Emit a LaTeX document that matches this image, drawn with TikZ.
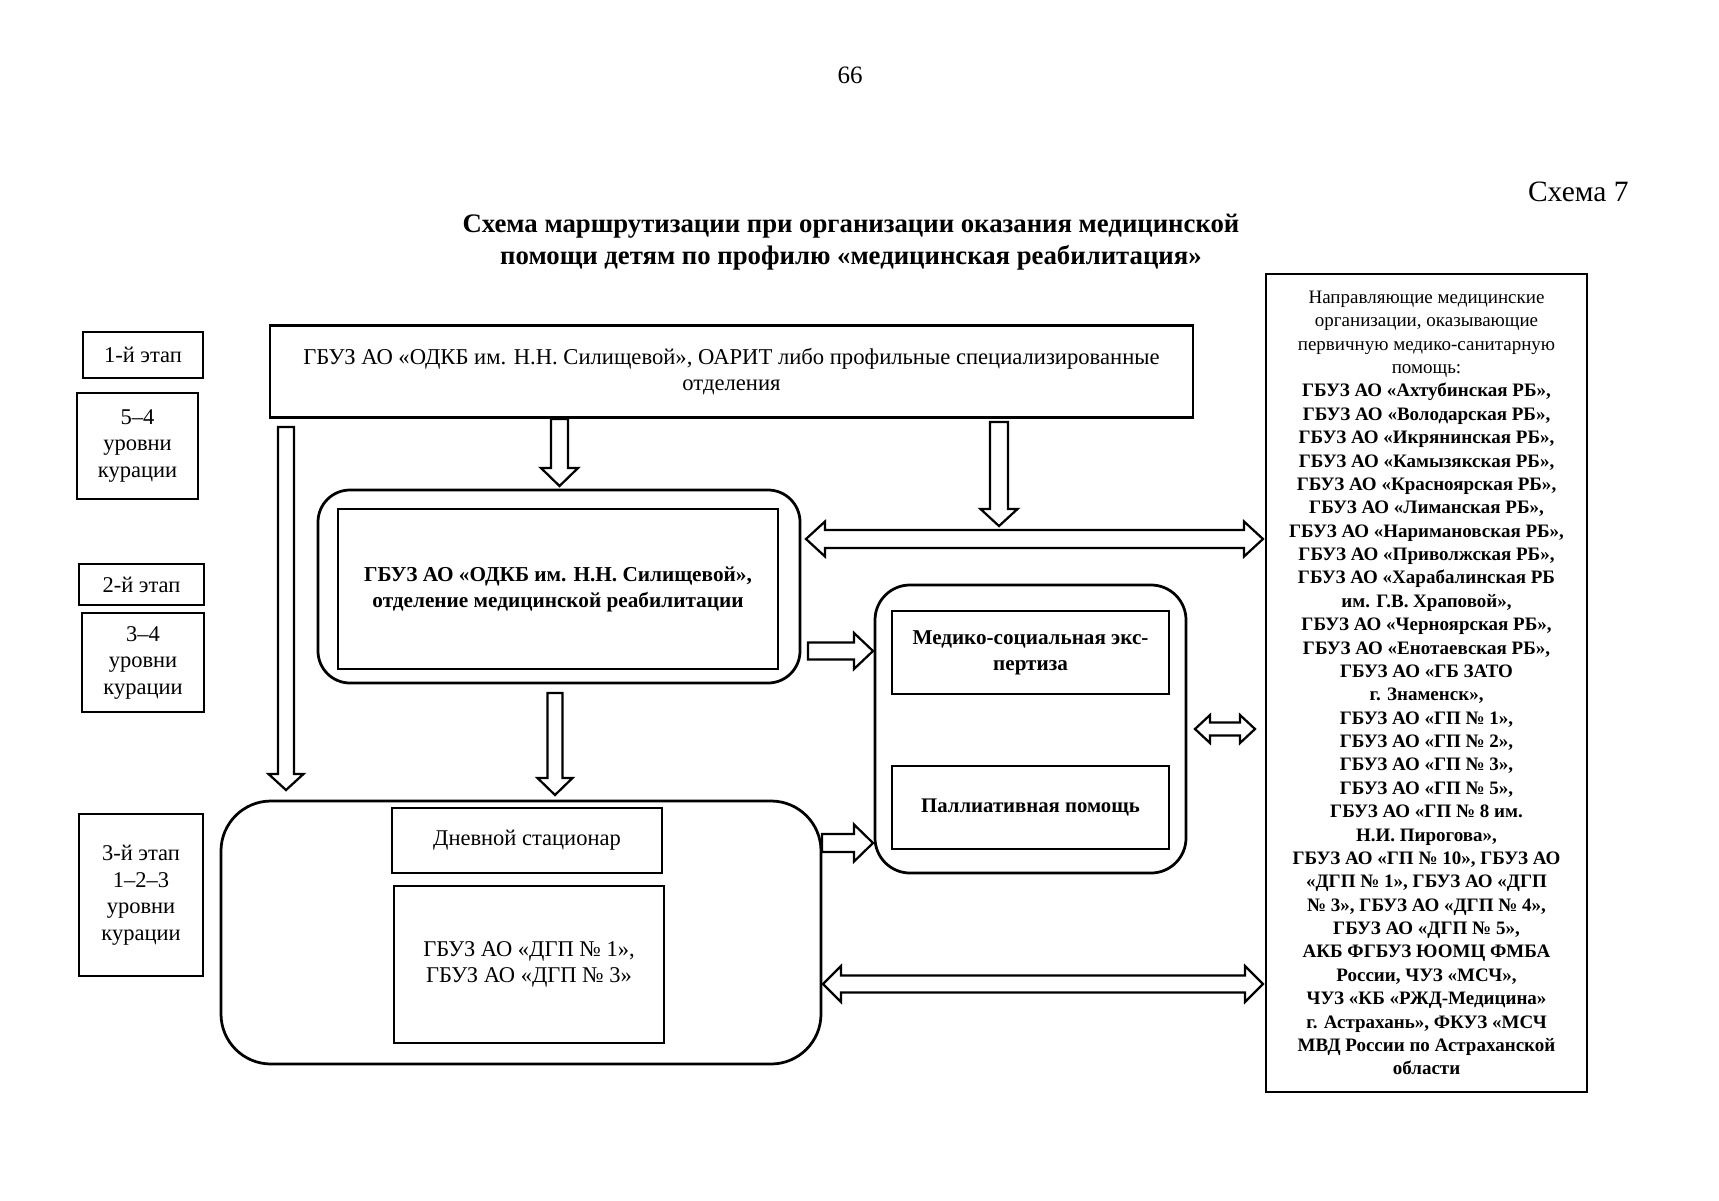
\documentclass[tikz,border=0pt]{standalone}
\usepackage{fontspec}
\setmainfont{Liberation Serif}
\newcommand\fs[2]{\fontsize{#1pt}{#2pt}\selectfont}
% block arrows (coordinates in px of the reference)
\newcommand\blkdown[6]{% x, ytop, ytip, shaft half, head half, head length
  \draw[blk] (#1-#4,#2) -- (#1+#4,#2) -- (#1+#4,#3-#6) -- (#1+#5,#3-#6) -- (#1,#3)
    -- (#1-#5,#3-#6) -- (#1-#4,#3-#6) -- cycle;}
\newcommand\blkright[6]{% y, xstart, xtip, shaft half, head half, head length
  \draw[blk] (#2,#1-#4) -- (#3-#6,#1-#4) -- (#3-#6,#1-#5) -- (#3,#1) -- (#3-#6,#1+#5)
    -- (#3-#6,#1+#4) -- (#2,#1+#4) -- cycle;}
\newcommand\blkboth[6]{% y, xleft tip, xright tip, shaft half, head half, head length
  \draw[blk] (#2,#1) -- (#2+#6,#1-#5) -- (#2+#6,#1-#4) -- (#3-#6,#1-#4) -- (#3-#6,#1-#5)
    -- (#3,#1) -- (#3-#6,#1+#5) -- (#3-#6,#1+#4) -- (#2+#6,#1+#4) -- (#2+#6,#1+#5) -- cycle;}
\begin{document}
\begin{tikzpicture}[x=0.4pt,y=-0.4pt,
  box/.style={draw, line width=1.1pt, align=center, inner sep=0pt, font=\fs{9}{10.4}},
  rbox/.style={box, rounded corners=#1},
  lbl/.style={box, font=\fs{9}{10.6}},
  blk/.style={draw, line width=0.9pt, fill=white, line join=miter}]
\useasboundingbox (0,0) rectangle (1719,1200);
\fill[white] (0,0) rectangle (1719,1200);

\node[font=\fs{10}{12}] (pnum) at (850,75) {66};
\node[font=\fs{11.8}{13}, anchor=east, inner sep=0pt] (schnum) at (1629,192) {Схема 7};
\node[font=\fs{10.7}{12.8}\bfseries, align=center] (title) at (851,242)
  {Схема маршрутизации при организации оказания медицинской\\помощи детям по профилю «медицинская реабилитация»};

% left labels
\node[lbl, minimum width=48pt, minimum height=18.4pt] (l1) at (143,355) {1-й этап};
\node[lbl, minimum width=48.4pt, minimum height=42.4pt] (l2) at (137.5,446) {5–4\\уровни\\курации};
\node[lbl, minimum width=50pt, minimum height=16.4pt] (l3) at (141.5,584.5) {2-й этап};
\node[lbl, minimum width=48.8pt, minimum height=39.6pt] (l4) at (143,662.5) {3–4\\уровни\\курации};
\node[lbl, minimum width=49.6pt, minimum height=64.8pt] (l5) at (141,895) {3-й этап\\1–2–3\\уровни\\курации};

% top box
\node[box, font=\fs{9.05}{10.5}, minimum width=369.2pt, minimum height=36.8pt] (top) at (731.5,371.5)
  {ГБУЗ АО «ОДКБ им. Н.Н. Силищевой», ОАРИТ либо профильные специализированные\\отделения};

% stage 2 box
\node[rbox=12.8pt, minimum width=192.8pt, minimum height=77.2pt] (b2o) at (559,586.5) {};
\node[box, font=\fs{8.5}{10.4}\bfseries, minimum width=176pt, minimum height=64pt] (b2) at (558,589)
  {ГБУЗ АО «ОДКБ им. Н.Н. Силищевой»,\\отделение медицинской реабилитации};

% stage 3 box
\node[rbox=20pt, minimum width=240pt, minimum height=105.2pt] (b3o) at (521,932.5) {};
\node[box, minimum width=108pt, minimum height=26pt] (day) at (527,840.5) {Дневной стационар};
\node[box, minimum width=108pt, minimum height=62.8pt] (dgp) at (529,964.5)
  {ГБУЗ АО «ДГП № 1»,\\ГБУЗ АО «ДГП № 3»};

% middle box
\node[rbox=14pt, minimum width=124.4pt, minimum height=115.2pt] (mido) at (1030.5,729) {};
\node[box, font=\fs{8.45}{10.4}\bfseries, minimum width=110.8pt, minimum height=33.2pt] (mse) at (1030.5,652.5)
  {Медико-социальная экс-\\пертиза};
\node[box, font=\fs{8.3}{10.4}\bfseries, minimum width=110.8pt, minimum height=33.2pt] (pal) at (1030.5,807.5)
  {Паллиативная помощь};

% right box
\node[box, font=\fs{7.6}{9.35}\bfseries, minimum width=128.4pt, minimum height=327.2pt] (right) at (1426.5,683)
  {\mdseries Направляющие медицинские\\\mdseries организации, оказывающие\\\mdseries первичную медико-санитарную\\\mdseries помощь:\\
   ГБУЗ АО «Ахтубинская РБ»,\\ГБУЗ АО «Володарская РБ»,\\ГБУЗ АО «Икрянинская РБ»,\\
   ГБУЗ АО «Камызякская РБ»,\\ГБУЗ АО «Красноярская РБ»,\\ГБУЗ АО «Лиманская РБ»,\\
   ГБУЗ АО «Наримановская РБ»,\\ГБУЗ АО «Приволжская РБ»,\\ГБУЗ АО «Харабалинская РБ\\
   им. Г.В. Храповой»,\\ГБУЗ АО «Черноярская РБ»,\\ГБУЗ АО «Енотаевская РБ»,\\
   ГБУЗ АО «ГБ ЗАТО\\г. Знаменск»,\\ГБУЗ АО «ГП № 1»,\\ГБУЗ АО «ГП № 2»,\\
   ГБУЗ АО «ГП № 3»,\\ГБУЗ АО «ГП № 5»,\\ГБУЗ АО «ГП № 8 им.\\Н.И. Пирогова»,\\
   ГБУЗ АО «ГП № 10», ГБУЗ АО\\«ДГП № 1», ГБУЗ АО «ДГП\\№ 3», ГБУЗ АО «ДГП № 4»,\\
   ГБУЗ АО «ДГП № 5»,\\АКБ ФГБУЗ ЮОМЦ ФМБА\\России, ЧУЗ «МСЧ»,\\
   ЧУЗ «КБ «РЖД-Медицина»\\г. Астрахань», ФКУЗ «МСЧ\\МВД России по Астраханской\\области};

% block arrows
\blkdown{286}{427}{790}{8}{17.5}{16}      % top -> stage 3
\blkdown{559.5}{419}{486}{8.5}{18.5}{18}  % top -> stage 2
\blkdown{999}{422}{526}{9}{18.5}{17}      % top -> double arrow
\blkdown{555}{693}{795}{7.5}{17.5}{17}    % stage 2 -> stage 3
\blkboth{539}{806}{1263}{9}{17.5}{19}     % stage 2 <-> right
\blkright{651}{808}{873}{8.5}{18}{19}     % stage 2 -> middle
\blkright{843}{822}{873}{9}{18.5}{19}     % stage 3 -> middle
\blkboth{729}{1195}{1255}{6.5}{14}{15}    % middle <-> right
\blkboth{984}{823}{1263}{8.5}{18}{18}     % stage 3 <-> right
\end{tikzpicture}
\end{document}
